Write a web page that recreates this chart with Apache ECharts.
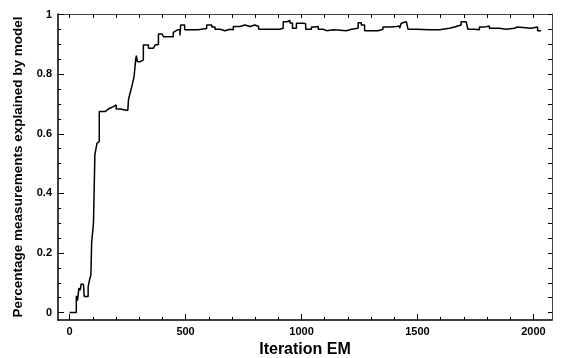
<!DOCTYPE html>
<html>
<head>
<meta charset="utf-8">
<script src="https://cdn.jsdelivr.net/npm/echarts@6/dist/echarts.min.js"></script>
<style>
  html, body { margin: 0; padding: 0; background: #fff; }
  #chart { width: 561px; height: 358px; }
</style>
</head>
<body>
<div id="chart"></div>
<script>
var iterations = [
  0, 29, 29, 34, 34, 40, 40, 46, 46, 50, 50, 60, 63, 63, 80, 80, 86, 92, 95, 103,
  109, 118, 128, 128, 154, 154, 171, 171, 189, 189, 201, 201, 218, 218, 251, 254,
  268, 278, 285, 288, 292, 297, 305, 311, 318, 318, 340, 340, 361, 361, 369, 383,
  383, 398, 398, 405, 405, 447, 447, 455, 466, 476, 476, 479, 479, 496, 496, 555,
  555, 591, 591, 613, 613, 627, 627, 649, 649, 670, 670, 692, 692, 706, 706, 735,
  735, 756, 756, 778, 778, 799, 799, 815, 815, 906, 906, 921, 921, 938, 938, 950,
  950, 961, 961, 978, 978, 1007, 1007, 1018, 1018, 1043, 1043, 1057, 1057, 1072,
  1072, 1093, 1093, 1108, 1108, 1137, 1137, 1194, 1194, 1215, 1215, 1244, 1244,
  1258, 1258, 1272, 1272, 1330, 1330, 1351, 1351, 1380, 1380, 1409, 1409, 1423,
  1423, 1430, 1430, 1452, 1459, 1459, 1495, 1495, 1552, 1552, 1595, 1595, 1638,
  1638, 1667, 1667, 1688, 1688, 1710, 1710, 1717, 1717, 1746, 1746, 1767, 1767,
  1789, 1789, 1810, 1810, 1853, 1853, 1882, 1882, 1918, 1918, 1930, 1930, 1990,
  1990, 2018, 2018, 2033
];
var percentExplained = [
  0, 0, 0.056, 0.056, 0.04, 0.04, 0.082, 0.082, 0.075, 0.075, 0.096, 0.094, 0.094, 0.054, 0.054, 0.087, 0.11, 0.127, 0.235, 0.30,
  0.53, 0.568, 0.574, 0.675, 0.675, 0.68, 0.685, 0.691, 0.691, 0.697, 0.697, 0.683, 0.683, 0.678, 0.678, 0.716,
  0.758, 0.792, 0.85, 0.862, 0.842, 0.848, 0.842, 0.848, 0.848, 0.898, 0.898, 0.887, 0.887, 0.893, 0.898, 0.9,
  0.935, 0.935, 0.932, 0.932, 0.926, 0.926, 0.94, 0.943, 0.949, 0.949, 0.93, 0.93, 0.965, 0.965, 0.949, 0.949,
  0.953, 0.953, 0.965, 0.965, 0.958, 0.958, 0.951, 0.951, 0.946, 0.946, 0.951, 0.951, 0.949, 0.949, 0.96, 0.96,
  0.965, 0.965, 0.96, 0.96, 0.965, 0.965, 0.96, 0.96, 0.951, 0.951, 0.954, 0.954, 0.976, 0.976, 0.98, 0.98,
  0.972, 0.972, 0.954, 0.954, 0.971, 0.971, 0.969, 0.969, 0.951, 0.951, 0.958, 0.958, 0.96, 0.96,
  0.951, 0.951, 0.946, 0.946, 0.949, 0.949, 0.946, 0.946, 0.951, 0.951, 0.954, 0.954, 0.973,
  0.973, 0.965, 0.965, 0.946, 0.946, 0.951, 0.951, 0.958, 0.958, 0.96, 0.96, 0.962, 0.962,
  0.954, 0.954, 0.971, 0.976, 0.976, 0.951, 0.951, 0.949, 0.949, 0.949, 0.949, 0.954, 0.954,
  0.96, 0.96, 0.965, 0.965, 0.976, 0.976, 0.972, 0.972, 0.951, 0.951, 0.949, 0.949, 0.958,
  0.958, 0.962, 0.962, 0.954, 0.954, 0.951, 0.951, 0.954, 0.954, 0.958, 0.958, 0.954, 0.954,
  0.958, 0.958, 0.946, 0.946
];

var xMajorTicks = [0, 500, 1000, 1500, 2000];
var xMinorTicks = [100, 200, 300, 400, 600, 700, 800, 900, 1100, 1200, 1300, 1400, 1600, 1700, 1800, 1900];
var yMajorTicks = [0, 0.2, 0.4, 0.6, 0.8, 1];
var yMinorTicks = [0.05, 0.1, 0.15, 0.25, 0.3, 0.35, 0.45, 0.5, 0.55, 0.65, 0.7, 0.75, 0.85, 0.9, 0.95];

var points = iterations.map(function (it, i) {
  return [it, percentExplained[i]];
});

var fontFam = "Liberation Sans, Arial, sans-serif";
var xRange = { min: -50, max: 2080 };
var yRange = { min: -0.025, max: 1.002 };

// extra axis that only draws a set of inward ticks (and maybe the frame line)
function tickAxis(range, position, ticks, len, lineOpt) {
  return {
    type: "value",
    min: range.min,
    max: range.max,
    position: position,
    axisLine: lineOpt
      ? { show: true, onZero: false, lineStyle: lineOpt }
      : { show: false, onZero: false },
    axisTick: { show: true, inside: true, length: len, customValues: ticks, lineStyle: { color: "#000", width: 1 } },
    axisLabel: { show: false },
    splitLine: { show: false }
  };
}

var chart = echarts.init(document.getElementById("chart"));
chart.setOption({
  animation: false,
  grid: { left: 58, right: 9, top: 14, bottom: 38, outerBoundsMode: "none" },
  xAxis: [
    {
      type: "value",
      min: xRange.min,
      max: xRange.max,
      position: "bottom",
      name: "Iteration EM",
      nameLocation: "middle",
      nameGap: 20,
      nameTextStyle: { fontFamily: fontFam, fontWeight: "bold", fontSize: 16, color: "#000" },
      axisLine: { show: true, onZero: false, lineStyle: { color: "#000", width: 1.5 } },
      axisTick: { show: true, inside: true, length: 6, customValues: xMajorTicks, lineStyle: { color: "#000" } },
      axisLabel: {
        customValues: xMajorTicks,
        formatter: function (v) { return String(v); },
        margin: 6, fontFamily: fontFam, fontWeight: "bold", fontSize: 11, color: "#000"
      },
      splitLine: { show: false }
    },
    tickAxis(xRange, "bottom", xMinorTicks, 3, null),
    tickAxis(xRange, "top", xMajorTicks.concat(xMinorTicks), 4, { color: "#444", width: 1 })
  ],
  yAxis: [
    {
      type: "value",
      min: yRange.min,
      max: yRange.max,
      position: "left",
      name: "Percentage measurements explained by model",
      nameLocation: "middle",
      nameGap: 33,
      nameTextStyle: { fontFamily: fontFam, fontWeight: "bold", fontSize: 13.5, color: "#000" },
      axisLine: { show: true, onZero: false, lineStyle: { color: "#000", width: 1.5 } },
      axisTick: { show: true, inside: true, length: 6, customValues: yMajorTicks, lineStyle: { color: "#000" } },
      axisLabel: {
        customValues: yMajorTicks,
        formatter: function (v) { return String(v); },
        margin: 6, fontFamily: fontFam, fontWeight: "bold", fontSize: 11, color: "#000"
      },
      splitLine: { show: false }
    },
    tickAxis(yRange, "left", yMinorTicks, 3, null),
    tickAxis(yRange, "right", yMajorTicks.concat(yMinorTicks), 4, { color: "#444", width: 1 })
  ],
  series: [
    {
      type: "line",
      data: points,
      xAxisIndex: 0,
      yAxisIndex: 0,
      showSymbol: false,
      lineStyle: { color: "#000", width: 1.5 }
    }
  ]
});
</script>
</body>
</html>
